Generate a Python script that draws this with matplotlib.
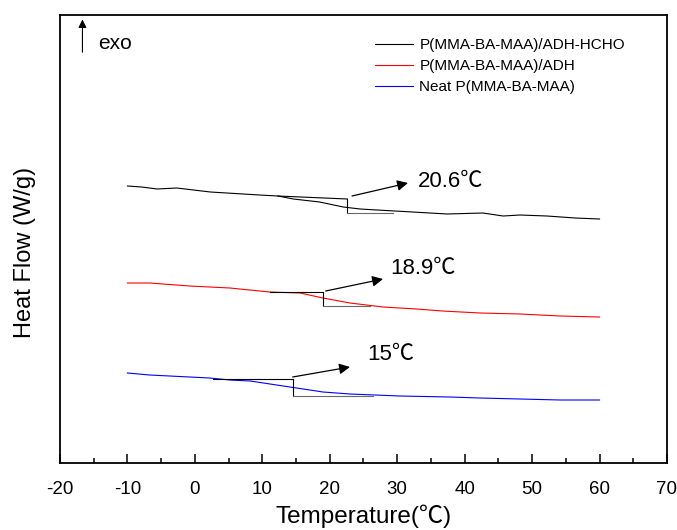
import matplotlib
matplotlib.use("Agg")
import matplotlib.pyplot as plt
from matplotlib.ticker import MultipleLocator

plt.rcParams["font.family"] = ["Liberation Sans", "Noto Sans CJK SC", "DejaVu Sans"]
plt.rcParams["axes.unicode_minus"] = False

# DSC curves (temperature in C, heat flow in arbitrary units)
t_hcho = [-10, -7.9, -5.6, -2.7, 2.3, 9.6, 12.3, 14.6, 18.5, 22.0, 24.5, 27.0,
          32.3, 37.4, 42.7, 45.7, 48.2, 52.2, 56.4, 60]
hf_hcho = [2.77, 2.76, 2.74, 2.75, 2.71, 2.68, 2.67, 2.64, 2.61, 2.56, 2.54, 2.53,
           2.51, 2.49, 2.50, 2.47, 2.48, 2.47, 2.45, 2.44]

t_adh = [-10, -6.7, -0.8, 5.2, 11.1, 15.6, 19.0, 23.0, 27.9, 32.9, 36.7, 42.3,
         48.2, 54.2, 60]
hf_adh = [1.80, 1.80, 1.77, 1.75, 1.71, 1.70, 1.65, 1.60, 1.56, 1.54, 1.52, 1.50,
          1.49, 1.47, 1.46]

t_neat = [-10, -6.7, 2.2, 5.2, 8.2, 14.1, 19.0, 23.0, 30.4, 37.8, 42.3, 48.2,
          54.2, 60]
hf_neat = [0.90, 0.88, 0.85, 0.83, 0.82, 0.76, 0.71, 0.69, 0.67, 0.66, 0.65, 0.64,
           0.63, 0.63]

labels = ["P(MMA-BA-MAA)/ADH-HCHO", "P(MMA-BA-MAA)/ADH", "Neat P(MMA-BA-MAA)"]
colors = ["black", "red", "blue"]

# Tg tangent constructions
tg_labels = ["20.6℃", "18.9℃", "15℃"]
tg_upper_start = [12.3, 11.1, 2.7]
tg_step = [22.6, 19.0, 14.5]
tg_lower_end = [29.4, 26.0, 26.4]
tg_upper_hf = [(2.67, 2.64), (1.71, 1.71), (0.84, 0.84)]
tg_lower_hf = [2.50, 1.57, 0.67]
arrow_start = [(23.3, 2.67), (19.4, 1.72), (14.5, 0.86)]
arrow_end = [(31.6, 2.80), (27.9, 1.84), (23.0, 0.96)]
text_pos = [(33.1, 2.82), (28.9, 1.95), (25.5, 1.09)]

fig = plt.figure(figsize=(6.77, 5.30), dpi=100)
ax = fig.add_axes([0.0886, 0.1264, 0.8966, 0.8453])

for t, hf, lab, c in zip([t_hcho, t_adh, t_neat], [hf_hcho, hf_adh, hf_neat], labels, colors):
    ax.plot(t, hf, color=c, lw=0.8, label=lab)

for i in range(3):
    x0, xs, x1 = tg_upper_start[i], tg_step[i], tg_lower_end[i]
    ax.plot([x0, xs], list(tg_upper_hf[i]), color="black", lw=0.8)
    ax.plot([xs, xs], [tg_upper_hf[i][1], tg_lower_hf[i]], color="black", lw=0.8)
    ax.plot([xs, x1], [tg_lower_hf[i], tg_lower_hf[i]], color="dimgray", lw=0.8)
    ax.annotate("", xy=arrow_end[i], xytext=arrow_start[i],
                arrowprops=dict(arrowstyle="-|>", color="black", lw=0.9,
                                mutation_scale=16, shrinkA=0, shrinkB=0))
    ax.text(text_pos[i][0], text_pos[i][1], tg_labels[i], fontsize=16,
            ha="left", va="center")

# exo arrow
ax.annotate("", xy=(0.037, 0.99), xytext=(0.037, 0.917), xycoords="axes fraction",
            arrowprops=dict(arrowstyle="-|>", color="black", lw=0.8,
                            mutation_scale=12, shrinkA=0, shrinkB=0))
ax.text(0.063, 0.937, "exo", transform=ax.transAxes, fontsize=15,
        ha="left", va="center")

ax.set_xlim(-20, 70)
ax.set_ylim(0, 4.48)
ax.xaxis.set_major_locator(MultipleLocator(10))
ax.xaxis.set_minor_locator(MultipleLocator(5))
ax.tick_params(axis="x", which="major", direction="in", length=6.5, width=1.1,
               labelsize=13.5, pad=13, top=False)
ax.tick_params(axis="x", which="minor", direction="in", length=3.6, width=1.1, top=False)
ax.set_yticks([])
for sp in ax.spines.values():
    sp.set_linewidth(1.3)

ax.set_xlabel("Temperature(℃)", fontsize=17.5, labelpad=5)
ax.set_ylabel("Heat Flow (W/g)", fontsize=17)
ax.yaxis.set_label_coords(-0.039, 0.471)

ax.legend(loc="upper left", bbox_to_anchor=(375 / 677, 1 - 38 / 530),
          bbox_transform=fig.transFigure, frameon=False, fontsize=11,
          handlelength=2.5, handletextpad=0.4, labelspacing=0.47,
          borderpad=0, borderaxespad=0)

plt.savefig("out.png", dpi=100)
plt.close(fig)
